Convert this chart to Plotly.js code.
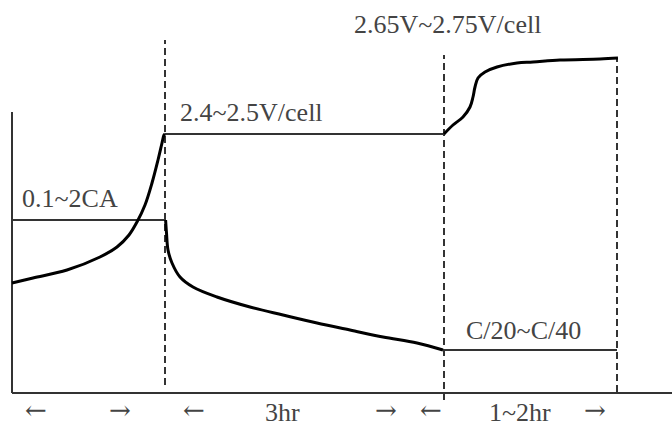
<!DOCTYPE html>
<html>
<head>
<meta charset="utf-8">
<script src="https://cdn.plot.ly/plotly-3.0.1.min.js"></script>
<style>html,body{margin:0;padding:0;background:#fff;}#chart{width:672px;height:428px;}</style>
</head>
<body>
<div id="chart"></div>
<script>
// Schematic charging profile (arbitrary units: x = time, y = level)
const stageBounds = [153, 432, 605];
const stageDashTop = [353, 338, 335];
const stageDashBottom = [8, -7, 1];

const ccCurrentLevel = 173;      // 0.1~2CA
const absorbVoltLevel = 259;     // 2.4~2.5V/cell
const floatCurrentLevel = 43;    // C/20~C/40

const stage1VoltX = [0, 21, 55, 88, 105, 117, 125, 133, 140, 146, 150, 152, 153];
const stage1VoltY = [110, 115, 123, 136, 146, 158, 171, 188, 210, 233, 250, 258, 259];

const stage2CurrX = [153.6, 154.5, 156, 160, 168, 181, 205, 238, 271, 305, 338, 371, 405, 431];
const stage2CurrY = [173, 160, 143, 130, 116, 106, 96, 86, 78, 70, 63, 56, 50, 43];

const stage3VoltX = [432, 441, 451, 458, 461, 463, 466, 473, 485, 505, 521, 548, 588, 606];
const stage3VoltY = [259, 268, 276, 286, 296, 306, 315, 321, 326, 330, 331, 333, 334, 335];

const axisTop = 281;
const axisRight = 660;

const levelLabels = ["0.1~2CA", "2.4~2.5V/cell", "2.65V~2.75V/cell", "C/20~C/40"];
const timeLabels = ["←", "→", "←", "3hr", "→", "←", "1~2hr", "→"];

const thin = {color: '#333', width: 2};
const thick = {color: '#000', width: 3};
const dash = {color: '#333', width: 2, dash: '7px,4px'};

const traces = [];
function line(x, y, style, shape) {
  traces.push({x: x, y: y, mode: 'lines', type: 'scatter', hoverinfo: 'skip',
    line: Object.assign({shape: shape || 'linear'}, style)});
}
// axes
line([0, 0], [axisTop, 0], thin);
line([0, axisRight], [0, 0], thin);
// stage dividers
for (let i = 0; i < stageBounds.length; i++) {
  line([stageBounds[i], stageBounds[i]], [stageDashBottom[i], stageDashTop[i]], dash);
}
// constant levels
line([0, stageBounds[0]], [ccCurrentLevel, ccCurrentLevel], thin);
line([stageBounds[0], stageBounds[1]], [absorbVoltLevel, absorbVoltLevel], thin);
line([stageBounds[1], stageBounds[2]], [floatCurrentLevel, floatCurrentLevel], thin);
// curves
line(stage1VoltX, stage1VoltY, thick, 'spline');
line(stage2CurrX, stage2CurrY, thick, 'spline');
line(stage3VoltX, stage3VoltY, thick, 'spline');

const font = {family: 'Liberation Serif, Times New Roman, serif', size: 26, color: '#444'};
const arrowFont = {family: 'DejaVu Serif, serif', size: 26, color: '#444'};
const annotations = [
  {x: 8, y: 195, text: levelLabels[0], xanchor: 'left', font: font},
  {x: 166, y: 281, text: levelLabels[1], xanchor: 'left', font: font},
  {x: 531, y: 369, text: levelLabels[2], xanchor: 'right', font: font},
  {x: 452, y: 63, text: levelLabels[3], xanchor: 'left', font: font}
];
const timeX = [24, 108, 182, 270, 374, 419, 508, 583];
timeLabels.forEach((t, i) => {
  const isArrow = (t === '←' || t === '→');
  annotations.push({x: timeX[i], y: isArrow ? -17 : -19, text: t, xanchor: 'center',
    font: isArrow ? arrowFont : font});
});
annotations.forEach(a => { a.showarrow = false; a.yanchor = 'middle'; a.xref = 'x'; a.yref = 'y'; });

const layout = {
  width: 672, height: 428,
  margin: {l: 0, r: 0, t: 0, b: 0, pad: 0},
  paper_bgcolor: '#fff', plot_bgcolor: '#fff',
  showlegend: false,
  xaxis: {range: [-12, 660], visible: false, fixedrange: true},
  yaxis: {range: [-35, 393], visible: false, fixedrange: true},
  annotations: annotations
};
Plotly.newPlot('chart', traces, layout, {staticPlot: true, displayModeBar: false});
</script>
</body>
</html>
